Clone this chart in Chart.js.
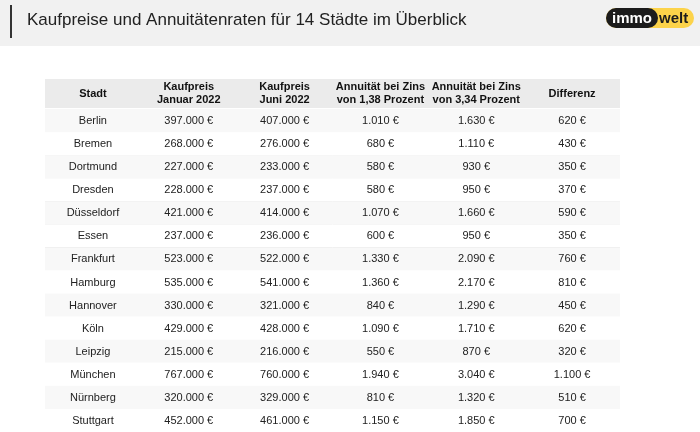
<!DOCTYPE html>
<html>
<head>
<meta charset="utf-8">
<script src="https://cdn.jsdelivr.net/npm/chart.js@4"></script>
<style>
  body { margin: 0; background: #fff; }
  #wrap { width: 700px; height: 432px; position: relative; }
</style>
</head>
<body>
<div id="wrap"><canvas id="myChart"></canvas></div>
<script>
// Tabellendaten
const title = "Kaufpreise und Annuitätenraten für 14 Städte im Überblick";
const columns = ["Stadt", "Kaufpreis\nJanuar 2022", "Kaufpreis\nJuni 2022", "Annuität bei Zins\nvon 1,38 Prozent", "Annuität bei Zins\nvon 3,34 Prozent", "Differenz"];
const cities = ["Berlin", "Bremen", "Dortmund", "Dresden", "Düsseldorf", "Essen", "Frankfurt", "Hamburg", "Hannover", "Köln", "Leipzig", "München", "Nürnberg", "Stuttgart"];
const priceJan = ["397.000 €", "268.000 €", "227.000 €", "228.000 €", "421.000 €", "237.000 €", "523.000 €", "535.000 €", "330.000 €", "429.000 €", "215.000 €", "767.000 €", "320.000 €", "452.000 €"];
const priceJun = ["407.000 €", "276.000 €", "233.000 €", "237.000 €", "414.000 €", "236.000 €", "522.000 €", "541.000 €", "321.000 €", "428.000 €", "216.000 €", "760.000 €", "329.000 €", "461.000 €"];
const rateLow = ["1.010 €", "680 €", "580 €", "580 €", "1.070 €", "600 €", "1.330 €", "1.360 €", "840 €", "1.090 €", "550 €", "1.940 €", "810 €", "1.150 €"];
const rateHigh = ["1.630 €", "1.110 €", "930 €", "950 €", "1.660 €", "950 €", "2.090 €", "2.170 €", "1.290 €", "1.710 €", "870 €", "3.040 €", "1.320 €", "1.850 €"];
const diff = ["620 €", "430 €", "350 €", "370 €", "590 €", "350 €", "760 €", "810 €", "450 €", "620 €", "320 €", "1.100 €", "510 €", "700 €"];

const cols = [cities, priceJan, priceJun, rateLow, rateHigh, diff];
const font = "'Liberation Sans', Arial, sans-serif";

// Tabelle ueber die Skalen zeichnen
const tablePlugin = {
  id: "table",
  afterDraw(chart) {
    const ctx = chart.ctx;
    const xs = chart.scales.x, ys = chart.scales.y;
    const area = chart.chartArea;
    const rowH = (area.bottom - area.top) / cities.length;
    ctx.save();

    // Kopfbereich
    ctx.fillStyle = "#f1f1f1";
    ctx.fillRect(0, 0, chart.width, 46);
    ctx.fillStyle = "#333";
    ctx.fillRect(10, 5, 2, 33);
    ctx.fillStyle = "#222";
    ctx.font = "17px " + font;
    ctx.textBaseline = "middle";
    ctx.textAlign = "left";
    ctx.fillText(title, 27, 20);

    // Logo
    ctx.fillStyle = "#fcd34a";
    roundRect(ctx, 606, 8, 88, 20, 10); ctx.fill();
    ctx.fillStyle = "#1c1c1c";
    roundRect(ctx, 606, 8, 52, 20, 10); ctx.fill();
    ctx.font = "bold 15px " + font;
    ctx.fillStyle = "#fff";
    ctx.fillText("immo", 612, 18.5);
    ctx.fillStyle = "#1c1c1c";
    ctx.fillText("welt", 659, 18.5);

    // Tabellenkopf
    const headTop = 79;
    const headH = area.top - headTop - 1;
    ctx.fillStyle = "#ebebeb";
    ctx.fillRect(area.left, headTop, area.right - area.left, headH);
    ctx.fillStyle = "#111";
    ctx.font = "bold 11px " + font;
    ctx.textAlign = "center";
    columns.forEach((c, i) => {
      const x = xs.getPixelForValue(i);
      const lines = c.split("\n");
      lines.forEach((l, k) => {
        ctx.fillText(l, x, headTop + headH / 2 + (k - (lines.length - 1) / 2) * 13);
      });
    });

    // Zeilen
    cities.forEach((city, r) => {
      const y = ys.getPixelForValue(r);
      ctx.fillStyle = r % 2 === 0 ? "#f8f8f8" : "#ffffff";
      ctx.fillRect(area.left, y - rowH / 2, area.right - area.left, rowH);
      ctx.strokeStyle = "#e6e6e6";
      ctx.beginPath();
      ctx.moveTo(area.left, Math.round(y + rowH / 2) + 0.5);
      ctx.lineTo(area.right, Math.round(y + rowH / 2) + 0.5);
      ctx.stroke();
    });
    ctx.fillStyle = "#222";
    ctx.font = "11px " + font;
    cols.forEach((vals, i) => {
      const x = xs.getPixelForValue(i);
      vals.forEach((v, r) => ctx.fillText(v, x, ys.getPixelForValue(r) + 0.5));
    });
    ctx.restore();
  }
};

function roundRect(ctx, x, y, w, h, r) {
  ctx.beginPath();
  ctx.moveTo(x + r, y);
  ctx.arcTo(x + w, y, x + w, y + h, r);
  ctx.arcTo(x + w, y + h, x, y + h, r);
  ctx.arcTo(x, y + h, x, y, r);
  ctx.arcTo(x, y, x + w, y, r);
  ctx.closePath();
}

const ctx = document.getElementById("myChart").getContext("2d");
new Chart(ctx, {
  type: "bar",
  data: {
    labels: columns.map((c, i) => i),
    datasets: [{ data: [], backgroundColor: "transparent" }]
  },
  options: {
    responsive: true,
    maintainAspectRatio: false,
    animation: false,
    layout: { padding: { left: 45, right: 80, top: 109, bottom: 0 } },
    scales: {
      x: { type: "category", labels: columns.map((c, i) => i), offset: true, display: false },
      y: { type: "category", labels: cities.map((c, i) => i), offset: true, display: false }
    },
    plugins: { legend: { display: false }, tooltip: { enabled: false } }
  },
  plugins: [tablePlugin]
});
</script>
</body>
</html>
